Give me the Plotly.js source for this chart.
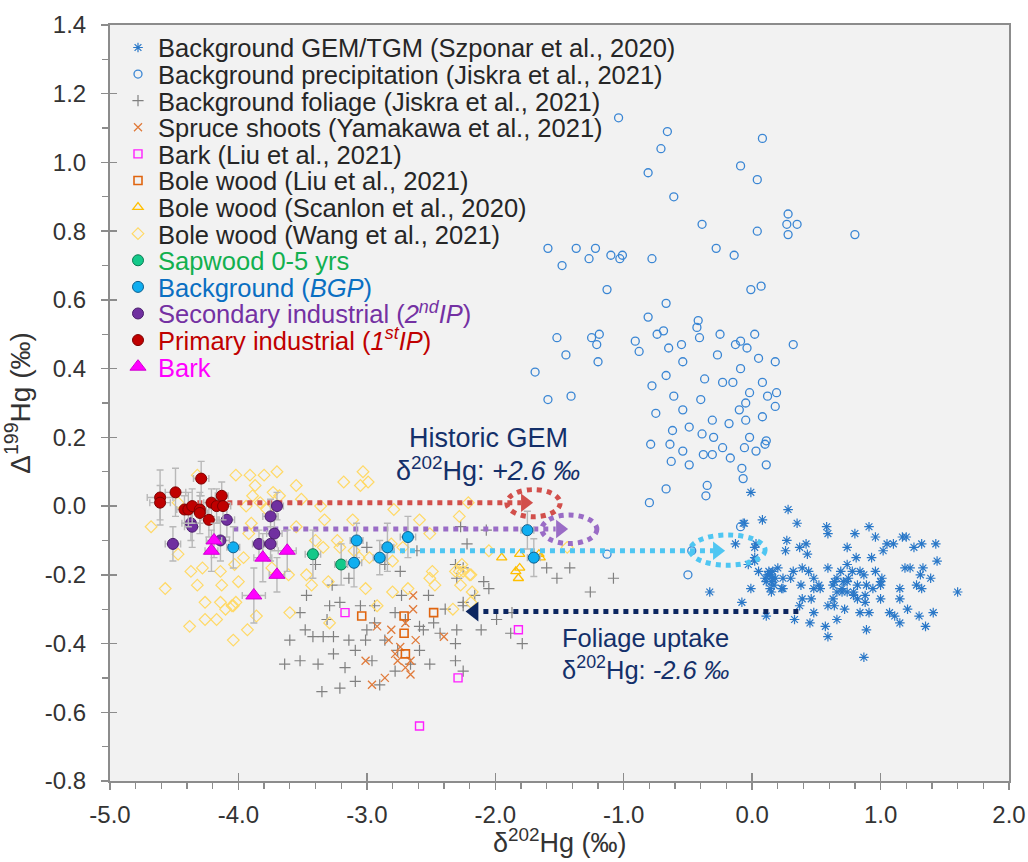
<!DOCTYPE html>
<html><head><meta charset="utf-8">
<script src="https://cdn.plot.ly/plotly-3.0.1.min.js"></script>
<style>body{margin:0;background:#fff}</style>
</head><body><div id="chart" style="width:1028px;height:862px"></div>
<script>
// ---------------- tick labels ----------------
const xTickVals = [-5,-4,-3,-2,-1,0,1,2];
const xTickText = ['-5.0','-4.0','-3.0','-2.0','-1.0','0.0','1.0','2.0'];
const yTickVals = [-0.8,-0.6,-0.4,-0.2,0,0.2,0.4,0.6,0.8,1.0,1.2,1.4];
const yTickText = ['-0.8','-0.6','-0.4','-0.2','0.0','0.2','0.4','0.6','0.8','1.0','1.2','1.4'];

// ---------------- series ----------------
const gemX = [-0.01,0.28,0.08,-0.06,0.35,0.58,0.91,0.80,0.59,0.96,1.17,1.20,1.05,1.10,1.26,1.32,1.43,0.27,0.26,0.37,0.42,0.43,0.74,1.02,0.93,0.81,1.44,-0.13,0.03,0.02,-0.03,0.05,0.20,0.32,0.39,0.44,0.59,0.74,0.78,0.84,0.96,1.19,1.23,1.33,0.10,0.14,0.16,0.24,0.30,0.48,0.66,0.71,0.87,1.01,1.31,1.39,-0.01,0.11,0.17,0.23,0.38,0.53,0.63,0.74,0.82,0.89,0.94,1.00,1.15,1.28,1.32,1.60,-0.33,0.15,0.24,0.70,0.74,0.79,1.00,1.15,-0.08,0.39,0.46,0.63,0.82,0.37,0.59,0.64,0.72,0.88,1.21,1.41,0.11,0.33,0.48,0.84,0.91,1.07,1.11,1.30,0.45,0.66,1.15,1.35,0.57,0.59,0.89,0.87,0.12,0.15,0.18,0.13,0.64,0.66,0.70,0.79,0.88,0.75,0.69,0.48,0.52,1.00,-0.07,0.02,0.14,0.16,0.02];
const gemY = [0.04,-0.01,-0.04,-0.05,-0.05,-0.06,-0.06,-0.08,-0.08,-0.09,-0.09,-0.09,-0.11,-0.11,-0.12,-0.11,-0.11,-0.10,-0.13,-0.12,-0.11,-0.14,-0.12,-0.13,-0.15,-0.15,-0.16,-0.11,-0.11,-0.16,-0.17,-0.19,-0.18,-0.19,-0.18,-0.19,-0.18,-0.17,-0.19,-0.19,-0.19,-0.18,-0.18,-0.18,-0.21,-0.20,-0.21,-0.21,-0.21,-0.21,-0.21,-0.22,-0.20,-0.21,-0.20,-0.21,-0.24,-0.22,-0.23,-0.24,-0.23,-0.24,-0.23,-0.22,-0.23,-0.23,-0.24,-0.23,-0.24,-0.23,-0.24,-0.25,-0.25,-0.25,-0.24,-0.25,-0.25,-0.25,-0.27,-0.27,-0.28,-0.27,-0.27,-0.27,-0.27,-0.29,-0.29,-0.29,-0.30,-0.28,-0.30,-0.31,-0.32,-0.33,-0.31,-0.31,-0.31,-0.31,-0.32,-0.32,-0.34,-0.33,-0.34,-0.35,-0.35,-0.38,-0.36,-0.44,-0.20,-0.22,-0.21,-0.19,-0.22,-0.25,-0.24,-0.26,-0.26,-0.21,-0.19,-0.24,-0.23,-0.22,-0.05,-0.12,-0.24,-0.19,-0.15];

const precipX = [-1.04,-0.66,-0.71,0.08,-0.81,-0.09,0.04,-0.61,-0.39,0.28,0.27,0.35,0.28,0.04,-0.28,-0.14,-1.59,-1.37,-1.22,-1.48,-1.27,-1.10,-1.01,-1.03,-0.78,-1.13,-0.01,0.07,-0.67,-0.81,-0.42,-0.43,-0.41,-0.25,0.02,-0.09,-0.13,-0.04,0.32,-1.52,-1.45,-1.25,-1.19,-1.21,-0.91,-0.88,-0.74,-0.69,-0.65,-0.55,-0.27,0.05,-1.69,-1.59,-1.41,-1.20,-0.78,-0.67,-0.54,-0.37,-0.09,0.18,-0.23,-0.15,-0.02,0.08,0.19,-0.05,-0.40,-0.61,-0.75,-0.54,-0.31,-0.18,-0.05,0.08,0.18,-0.62,-0.39,-0.30,-0.02,0.11,-0.49,-0.10,0.12,-0.79,-0.64,-0.54,-0.63,-0.49,-0.38,-0.31,-0.23,-0.17,-0.06,0.03,0.10,-0.08,-0.07,0.11,-0.80,-0.67,-0.35,-0.36,-1.13,-0.47,-0.50,-0.09,0.80];
const precipY = [1.13,1.09,1.04,1.07,0.97,0.99,0.95,0.90,0.82,0.85,0.82,0.82,0.79,0.80,0.75,0.73,0.75,0.75,0.75,0.70,0.72,0.73,0.73,0.72,0.72,0.63,0.63,0.64,0.59,0.55,0.54,0.52,0.49,0.50,0.50,0.48,0.47,0.46,0.47,0.49,0.44,0.49,0.50,0.47,0.48,0.45,0.50,0.51,0.46,0.47,0.44,0.43,0.39,0.31,0.32,0.42,0.35,0.38,0.42,0.37,0.40,0.42,0.36,0.36,0.33,0.36,0.33,0.30,0.31,0.32,0.27,0.28,0.25,0.24,0.25,0.26,0.29,0.22,0.21,0.20,0.20,0.19,0.23,0.28,0.32,0.18,0.18,0.16,0.13,0.12,0.15,0.15,0.17,0.14,0.17,0.16,0.18,0.11,0.08,0.12,0.01,0.05,0.06,0.03,-0.14,-0.13,-0.20,-0.06,0.79];

const foliageX = [-2.27,-2.31,-2.30,-3.00,-3.40,-3.14,-3.27,-3.47,-3.29,-3.21,-3.05,-2.86,-2.74,-2.73,-2.61,-2.52,-2.25,-2.39,-2.48,-2.56,-2.70,-3.31,-3.00,-2.94,-3.42,-3.34,-3.26,-3.14,-2.43,-2.30,-2.07,-2.25,-1.60,-1.52,-1.42,-1.08,-1.26,-2.09,-2.05,-2.16,-2.25,-1.99,-2.11,-1.88,-1.79,-2.31,-2.31,-2.25,-1.87,-3.60,-3.48,-3.52,-3.38,-3.26,-3.17,-3.09,-2.96,-2.86,-2.76,-2.66,-3.21,-3.09,-2.90,-2.78,-2.59,-2.51,-3.64,-3.35,-3.01,-3.52,-2.59,-2.78,-2.94,-2.22];
const foliageY = [-0.06,-0.17,-0.21,-0.12,-0.17,-0.21,-0.23,-0.26,-0.29,-0.28,-0.29,-0.17,-0.19,-0.26,-0.13,-0.26,-0.29,-0.30,-0.34,-0.36,-0.33,-0.33,-0.36,-0.34,-0.38,-0.38,-0.38,-0.39,-0.37,-0.36,-0.07,-0.18,-0.18,-0.21,-0.18,-0.21,-0.25,-0.22,-0.24,-0.26,-0.28,-0.33,-0.36,-0.37,-0.40,-0.40,-0.45,-0.48,-0.31,-0.39,-0.36,-0.45,-0.46,-0.43,-0.47,-0.42,-0.45,-0.39,-0.42,-0.46,-0.53,-0.51,-0.52,-0.48,-0.42,-0.46,-0.46,-0.54,-0.39,-0.31,-0.35,-0.31,-0.29,-0.11];

const spruceX = [-2.64,-2.64,-2.70,-2.92,-2.81,-2.40,-2.83,-2.78,-2.74,-2.70,-2.66,-2.76,-2.86,-2.96,-2.66,-2.62,-3.01];
const spruceY = [-0.26,-0.30,-0.34,-0.35,-0.36,-0.38,-0.39,-0.43,-0.41,-0.47,-0.49,-0.45,-0.50,-0.52,-0.45,-0.39,-0.45];

const barkLiuX = [-3.17,-1.82,-2.29,-2.59];
const barkLiuY = [-0.31,-0.36,-0.50,-0.64];

const boleLiuX = [-3.04,-2.71,-2.48,-2.71,-2.70];
const boleLiuY = [-0.32,-0.32,-0.31,-0.37,-0.43];

const scanlonX = [-1.95,-1.81,-1.66,-1.81,-1.84,-1.82,-1.65];
const scanlonY = [-0.15,-0.14,-0.14,-0.18,-0.19,-0.21,-0.15];

const wangX = [-4.68,-4.57,-4.37,-4.32,-4.28,-4.26,-4.17,-4.14,-4.13,-4.14,-4.10,-4.05,-4.02,-4.00,-4.03,-3.86,-3.91,-3.80,-3.70,-3.87,-3.89,-3.83,-3.94,-3.78,-3.73,-3.68,-3.55,-3.51,-3.36,-3.33,-3.23,-3.21,-3.40,-3.34,-3.55,-3.92,-3.90,-3.61,-3.74,-3.47,-3.43,-3.30,-3.01,-2.92,-3.18,-3.05,-2.99,-3.03,-3.11,-2.79,-2.59,-2.51,-2.28,-2.81,-2.72,-2.49,-2.51,-2.47,-2.28,-2.27,-2.68,-2.80,-3.29,-4.04,-3.60,-4.47,-4.04,-4.38,-3.96,-2.21,-3.10,-3.06,-2.98,-2.80,-2.25,-2.20,-2.05,-1.44,-2.26,-2.31,-2.19,-2.18,-2.19,-2.33,-4.02,-4.26,-3.93,-4.32,-4.47];
const wangY = [-0.06,-0.24,-0.19,-0.23,-0.18,-0.28,-0.33,-0.19,-0.23,-0.28,-0.30,-0.29,-0.28,-0.22,-0.17,-0.32,0.09,0.09,0.10,0.06,0.03,0.01,0.00,-0.01,0.04,0.03,0.06,0.02,0.00,-0.04,-0.10,-0.12,-0.10,-0.12,-0.06,-0.08,-0.05,-0.20,-0.18,-0.20,-0.23,-0.22,-0.24,-0.29,0.07,0.06,0.07,0.10,-0.04,-0.01,-0.04,-0.08,-0.03,-0.11,-0.12,-0.19,-0.21,-0.23,-0.19,-0.23,-0.24,-0.25,-0.34,-0.29,-0.31,-0.14,-0.39,-0.35,-0.15,0.01,-0.13,-0.15,-0.15,-0.16,-0.19,-0.20,-0.13,-0.12,-0.17,-0.19,-0.20,-0.25,-0.28,-0.30,0.09,-0.33,-0.36,0.09,0.01];

const sapX = [-3.42,-3.20];
const sapY = [-0.14,-0.17];
const sapErrX = [0.06,0.05];
const sapErrY = [0.07,0.06];

const bgpX = [-4.04,-3.08,-3.10,-2.90,-2.84,-2.68,-1.75,-1.70];
const bgpY = [-0.12,-0.10,-0.165,-0.15,-0.12,-0.09,-0.07,-0.15];
const bgpErrX = [0.05,0.05,0.06,0.05,0.05,0.06,0.05,0.05];
const bgpErrY = [0.06,0.05,0.07,0.05,0.07,0.06,0.055,0.055];

const secX = [-4.37,-4.36,-4.51,-4.09,-4.14,-3.70,-3.75,-3.72,-3.84,-3.75];
const secY = [-0.05,-0.06,-0.11,-0.04,-0.10,0.00,-0.03,-0.08,-0.11,-0.11];
const secErrX = [0.07,0.06,0.06,0.06,0.07,0.05,0.06,0.06,0.05,0.05];
const secErrY = [0.05,0.06,0.05,0.05,0.06,0.04,0.05,0.05,0.04,0.05];

const priX = [-4.61,-4.61,-4.49,-4.29,-4.42,-4.39,-4.36,-4.30,-4.30,-4.23,-4.21,-4.17,-4.13,-4.12];
const priY = [0.025,0.01,0.04,0.08,-0.01,-0.01,0.00,-0.01,-0.02,-0.04,0.01,0.00,0.03,0.00];
const priErrX = [0.10,0.08,0.08,0.06,0.06,0.05,0.06,0.05,0.06,0.07,0.06,0.05,0.05,0.06];
const priErrY = [0.08,0.05,0.07,0.05,0.04,0.05,0.05,0.04,0.06,0.05,0.04,0.05,0.04,0.04];

const barkX = [-4.19,-4.21,-3.81,-3.62,-3.70,-3.88];
const barkY = [-0.10,-0.13,-0.15,-0.13,-0.20,-0.26];
const barkErrX = [0.06,0.05,0.07,0.07,0.06,0.09];
const barkErrY = [0.05,0.06,0.07,0.06,0.05,0.08];

// ---------------- arrow annotations (geometry) ----------------
const arrowY    = [0.01, -0.067, -0.13, -0.307];
const arrowTail = [-4.32, -4.04, -2.82, 0.36];
const arrowNeck = [-1.80, -1.53, -0.30, -2.13];
const arrowHead = [-1.768, -1.495, -0.273, -2.165];
const ringX0 = [-1.910, -1.638, -0.483];
const ringX1 = [-1.495, -1.209, 0.101];
const ringY0 = [0.048, -0.026, -0.084];
const ringY1 = [-0.031, -0.109, -0.172];

// ---------------- build ----------------
const FONT = 'Liberation Sans, Arial, sans-serif';
const errStyle = (arr) => ({type:'data', array:arr, visible:true, color:'#b8b8b8', thickness:1.4, width:3.5});

const open = (name, x, y, symbol, color, size, lw) => ({
  type:'scatter', mode:'markers', name, x, y, hoverinfo:'x+y',
  marker:{symbol, size, color, line:{color, width:lw}}
});
const filled = (name, x, y, ex, ey, symbol, color, edge, size) => ({
  type:'scatter', mode:'markers', name, x, y, hoverinfo:'x+y',
  error_x: errStyle(ex), error_y: errStyle(ey),
  marker:{symbol, size, color, line:{color:edge, width:1}}
});

const dataTraces = [
  open('Background GEM/TGM (Szponar et al., 2020)', gemX, gemY, 'asterisk-open', '#2a78c8', 8, 1.2),
  open('Background precipitation (Jiskra et al., 2021)', precipX, precipY, 'circle-open', '#3a86d4', 8, 1.3),
  open('Background foliage (Jiskra et al., 2021)', foliageX, foliageY, 'cross-thin-open', '#808080', 8, 1.2),
  open('Spruce shoots (Yamakawa et al., 2021)', spruceX, spruceY, 'x-thin-open', '#e07a3a', 8, 1.3),
  open('Bark (Liu et al., 2021)', barkLiuX, barkLiuY, 'square-open', '#ff1fff', 8, 1.4),
  open('Bole wood (Liu et al., 2021)', boleLiuX, boleLiuY, 'square-open', '#e0650f', 8, 1.6),
  open('Bole wood (Scanlon et al., 2020)', scanlonX, scanlonY, 'triangle-up-open', '#ffbf00', 9, 1.3),
  open('Bole wood (Wang et al., 2021)', wangX, wangY, 'diamond-open', '#ffd966', 9, 1.2)
];
const legendColors = ['#262626','#262626','#262626','#262626','#262626','#262626','#262626','#262626',
                      '#12b04f','#0a6fc2','#7431a3','#c00000','#ff00ff'];

const solidTraces = [
  filled('Sapwood 0-5 yrs', sapX, sapY, sapErrX, sapErrY, 'circle', '#14c98a', '#0b7a52', 11),
  filled('Background (<i>BGP</i>)', bgpX, bgpY, bgpErrX, bgpErrY, 'circle', '#10aef0', '#0b5f8e', 11),
  filled('Secondary industrial (<i>2<sup>nd</sup>IP</i>)', secX, secY, secErrX, secErrY, 'circle', '#7030a0', '#4a1d6c', 11),
  filled('Primary industrial (<i>1<sup>st</sup>IP</i>)', priX, priY, priErrX, priErrY, 'circle', '#c00000', '#7d0000', 11),
  filled('Bark', barkX, barkY, barkErrX, barkErrY, 'triangle-up', '#ff00ff', '#d000d0', 14)
];

const arrowColors = ['#d24f4b','#9a6cc6','#4fc6f2','#0c2660'];
const headSymbols = ['triangle-right','triangle-right','triangle-right','triangle-left'];
const headSizes = [16,16,16,17];
const arrowTraces = [];
arrowY.forEach((yv,i) => {
  arrowTraces.push({type:'scatter', mode:'lines', x:[arrowTail[i], arrowNeck[i]], y:[yv,yv],
    line:{color:arrowColors[i], width:5, dash:'dot'}, showlegend:false, hoverinfo:'skip'});
  arrowTraces.push({type:'scatter', mode:'markers', x:[arrowHead[i]], y:[yv],
    marker:{symbol:headSymbols[i], size:headSizes[i], color:arrowColors[i]}, showlegend:false, hoverinfo:'skip'});
});

const shapes = ringX0.map((x0,i) => ({type:'circle', xref:'x', yref:'y', x0, x1:ringX1[i], y0:ringY0[i], y1:ringY1[i],
  line:{color:arrowColors[i], width:5, dash:'dot'}, layer:'above'}));

const NAVY = '#14306a';
const legendTraces = dataTraces.concat(solidTraces);
const layout = {
  width:1028, height:862,
  margin:{l:110, r:19, t:25, b:81},
  paper_bgcolor:'#ffffff', plot_bgcolor:'#f2f2f2',
  font:{family:FONT, size:24, color:'#333333'},
  showlegend:true,
  xaxis:{range:[-5,2], tickmode:'array', tickvals:xTickVals, ticktext:xTickText,
    ticks:'outside', ticklen:7, tickwidth:1.5, tickcolor:'#8c8c8c',
    minor:{tickmode:'linear', tick0:0, dtick:0.2, ticks:'outside', ticklen:6, tickwidth:1.3, tickcolor:'#8c8c8c', showgrid:false},
    showline:true, linecolor:'#8c8c8c', linewidth:2, mirror:true, showgrid:false, zeroline:false,
    tickfont:{size:24, color:'#333333'}, ticklabelstandoff:4},
  yaxis:{range:[-0.8,1.4], tickmode:'array', tickvals:yTickVals, ticktext:yTickText,
    ticks:'outside', ticklen:7, tickwidth:1.5, tickcolor:'#8c8c8c',
    minor:{tickmode:'linear', tick0:0, dtick:0.1, ticks:'outside', ticklen:6, tickwidth:1.3, tickcolor:'#8c8c8c', showgrid:false},
    showline:true, linecolor:'#8c8c8c', linewidth:2, mirror:true, showgrid:false, zeroline:false,
    tickfont:{size:24, color:'#333333'}, ticklabelstandoff:10,
    title:{text:'Δ<sup>199</sup>Hg (‰)', font:{size:28, color:'#333333'}, standoff:8}},
  xaxis2:{overlaying:'x', anchor:'y', range:[-5,2], tickmode:'array', tickvals:xTickVals, showticklabels:false,
    ticks:'inside', ticklen:8, tickwidth:1.5, tickcolor:'#8c8c8c', showline:false, showgrid:false, zeroline:false},
  yaxis2:{overlaying:'y', anchor:'x', range:[-0.8,1.4], tickmode:'array', tickvals:yTickVals, showticklabels:false,
    ticks:'inside', ticklen:7, tickwidth:1.5, tickcolor:'#8c8c8c', showline:false, showgrid:false, zeroline:false},
  shapes,
  annotations:[
    // x-axis title
    {xref:'paper', yref:'paper', x:0.5, y:-(841-781)/756, text:'δ<sup>202</sup>Hg (‰)', showarrow:false,
      xanchor:'center', yanchor:'middle', font:{size:27, color:'#333333'}},
    {xref:'x', yref:'y', x:-2.056, y:0.198, text:'Historic GEM', showarrow:false, xanchor:'center', yanchor:'middle',
      font:{size:27, color:NAVY}},
    {xref:'x', yref:'y', x:-2.056, y:0.108, text:'δ<sup>202</sup>Hg: <i>+2.6 ‰</i>', showarrow:false, xanchor:'center', yanchor:'middle',
      font:{size:27, color:NAVY}},
    {xref:'x', yref:'y', x:-1.495, y:-0.384, text:'Foliage uptake', showarrow:false, xanchor:'left', yanchor:'middle',
      font:{size:25.5, color:NAVY}},
    {xref:'x', yref:'y', x:-1.495, y:-0.471, text:'δ<sup>202</sup>Hg: <i>-2.6 ‰</i>', showarrow:false, xanchor:'left', yanchor:'middle',
      font:{size:25.5, color:NAVY}}
  ]
};

// one single-entry legend per series so the entry spacing matches the reference
const plotTop = 25, plotH = 756, plotW = 899;
legendTraces.forEach((t,i) => {
  const key = i === 0 ? 'legend' : 'legend' + (i+1);
  t.legend = key;
  const cy = 47.3 + i*26.6;
  const top = cy - 22.9;
  layout[key] = {x:(118 - 110)/plotW, xanchor:'left', y:1 - (top - plotTop)/plotH, yanchor:'top',
    bgcolor:'rgba(0,0,0,0)', borderwidth:0, font:{family:FONT, size:25.5, color:legendColors[i]},
    itemclick:false, itemdoubleclick:false};
});

const dummy = {type:'scatter', x:[], y:[], xaxis:'x2', yaxis:'y2', showlegend:false, hoverinfo:'skip'};
const traces = dataTraces.concat(arrowTraces, solidTraces, [dummy]);
Plotly.newPlot('chart', traces, layout, {displayModeBar:false, staticPlot:true});
</script></body></html>
